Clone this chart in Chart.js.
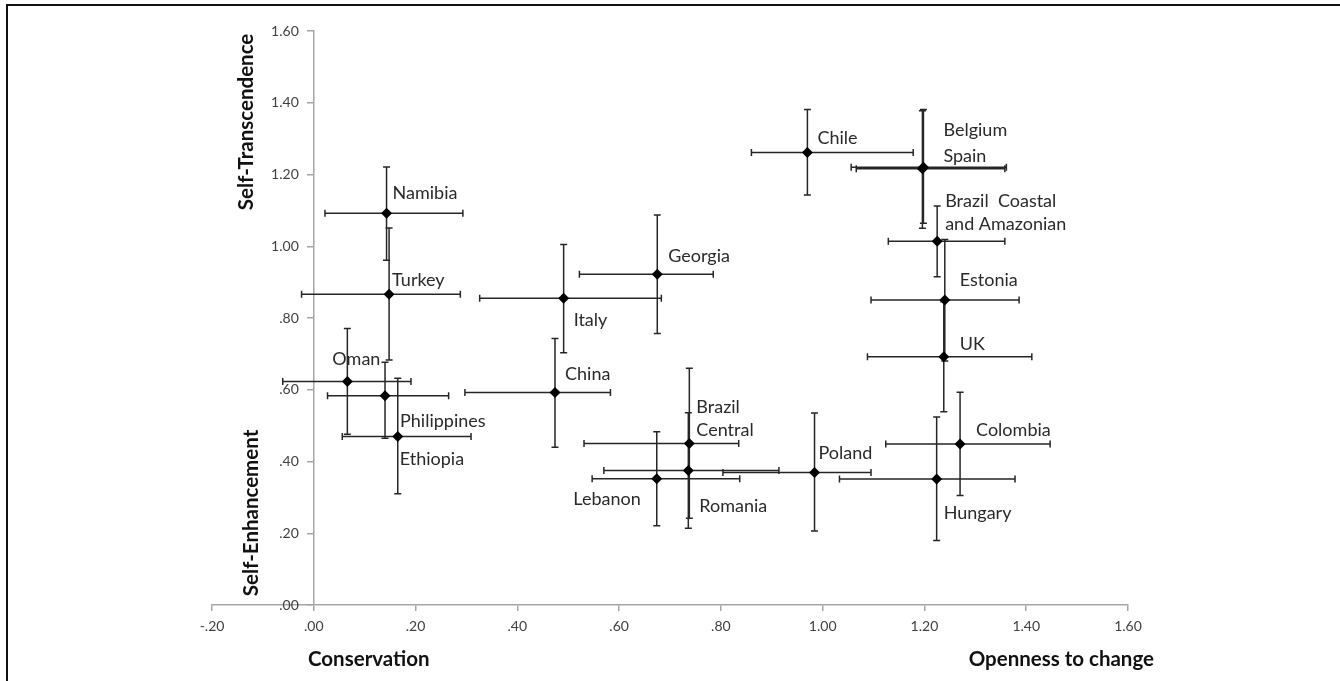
<!DOCTYPE html>
<html>
<head>
<meta charset="utf-8">
<script src="https://cdn.jsdelivr.net/npm/chart.js@4.4.0/dist/chart.umd.min.js"></script>
<style>
html, body { margin: 0; padding: 0; background: #fff; }
#wrap { position: relative; width: 1340px; height: 681px; overflow: hidden; }
#frame { position: absolute; left: 6px; top: 4px; right: -10px; bottom: -10px; border-top: 2px solid #111; border-left: 2px solid #111; }
canvas { position: absolute; left: 0; top: 0; }
</style>
</head>
<body>
<div id="wrap">
  <div id="frame"></div>
  <canvas id="myChart" width="1340" height="681"></canvas>
</div>
<script>
// country means with error bar ends
const countries = ['Namibia', 'Turkey', 'Italy', 'Georgia', 'Chile', 'Belgium', 'Spain',
  'Brazil  Coastal\nand Amazonian', 'Estonia', 'UK', 'Oman', 'Philippines', 'Ethiopia', 'China',
  'Brazil\nCentral', 'Romania', 'Lebanon', 'Poland', 'Colombia', 'Hungary'];

const openness = [0.143, 0.148, 0.491, 0.675, 0.970, 1.198, 1.196, 1.225, 1.240, 1.238,
  0.066, 0.140, 0.165, 0.474, 0.738, 0.736, 0.674, 0.984, 1.270, 1.224];
const opennessLow = [0.022, -0.024, 0.326, 0.522, 0.860, 1.056, 1.066, 1.129, 1.095, 1.088,
  -0.061, 0.027, 0.056, 0.297, 0.531, 0.570, 0.547, 0.804, 1.124, 1.033];
const opennessHigh = [0.293, 0.288, 0.683, 0.785, 1.178, 1.361, 1.358, 1.358, 1.386, 1.411,
  0.191, 0.265, 0.309, 0.583, 0.835, 0.914, 0.837, 1.095, 1.447, 1.378];

const transcendence = [1.092, 0.866, 0.855, 0.922, 1.261, 1.220, 1.216, 1.014, 0.850, 0.692,
  0.623, 0.583, 0.470, 0.592, 0.450, 0.375, 0.352, 0.369, 0.449, 0.351];
const transcendenceLow = [0.961, 0.683, 0.703, 0.757, 1.143, 1.064, 1.050, 0.915, 0.680, 0.539,
  0.476, 0.465, 0.310, 0.440, 0.242, 0.214, 0.221, 0.206, 0.305, 0.180];
const transcendenceHigh = [1.221, 1.051, 1.005, 1.087, 1.381, 1.381, 1.378, 1.112, 1.019, 0.845,
  0.771, 0.677, 0.632, 0.743, 0.660, 0.536, 0.483, 0.535, 0.593, 0.524];

const xTickValues = [-0.2, 0, 0.2, 0.4, 0.6, 0.8, 1.0, 1.2, 1.4, 1.6];
const yTickValues = [0, 0.2, 0.4, 0.6, 0.8, 1.0, 1.2, 1.4, 1.6];

// label placement next to each point: [dx, dy, align]
const labelOffsets = {
  'Namibia': [6, -20, 'left'], 'Turkey': [3, -14, 'left'], 'Italy': [10, 22, 'left'],
  'Georgia': [11, -18, 'left'], 'Chile': [10, -14, 'left'], 'Belgium': [20, -37, 'left'],
  'Spain': [21, -13, 'left'], 'Brazil  Coastal\nand Amazonian': [8, -40, 'left'],
  'Estonia': [15, -20, 'left'], 'UK': [16, -13, 'left'], 'Oman': [-15, -22, 'left'],
  'Philippines': [15, 25, 'left'], 'Ethiopia': [2, 23, 'left'], 'China': [10, -18, 'left'],
  'Brazil\nCentral': [7, -36, 'left'], 'Romania': [11, 36, 'left'], 'Lebanon': [-16, 20, 'right'],
  'Poland': [4, -19, 'left'], 'Colombia': [16, -14, 'left'], 'Hungary': [7, 34, 'left']
};

function fmt(v) {
  let s = Number(v).toFixed(2);
  if (s.startsWith('0.')) s = s.slice(1);
  if (s.startsWith('-0.')) s = '-' + s.slice(2);
  return s;
}

const errorBars = {
  id: 'errorBars',
  beforeDatasetsDraw(chart) {
    const ctx = chart.ctx, x = chart.scales.x, y = chart.scales.y;
    const cap = 3.5;
    ctx.save();
    ctx.strokeStyle = '#262626';
    ctx.lineWidth = 1.5;
    countries.forEach(function (c, i) {
      const px = x.getPixelForValue(openness[i]);
      const py = y.getPixelForValue(transcendence[i]);
      const x0 = x.getPixelForValue(opennessLow[i]);
      const x1 = x.getPixelForValue(opennessHigh[i]);
      const y0 = y.getPixelForValue(transcendenceLow[i]);
      const y1 = y.getPixelForValue(transcendenceHigh[i]);
      ctx.beginPath();
      ctx.moveTo(x0, py); ctx.lineTo(x1, py);
      ctx.moveTo(x0, py - cap); ctx.lineTo(x0, py + cap);
      ctx.moveTo(x1, py - cap); ctx.lineTo(x1, py + cap);
      ctx.moveTo(px, y0); ctx.lineTo(px, y1);
      ctx.moveTo(px - cap, y0); ctx.lineTo(px + cap, y0);
      ctx.moveTo(px - cap, y1); ctx.lineTo(px + cap, y1);
      ctx.stroke();
    });
    ctx.restore();
  }
};

const countryLabels = {
  id: 'countryLabels',
  afterDatasetsDraw(chart) {
    const ctx = chart.ctx, x = chart.scales.x, y = chart.scales.y;
    ctx.save();
    ctx.font = '18px Lato';
    ctx.fillStyle = '#2a2a2a';
    ctx.textBaseline = 'middle';
    countries.forEach(function (c, i) {
      const off = labelOffsets[c];
      const px = x.getPixelForValue(openness[i]) + off[0];
      const py = y.getPixelForValue(transcendence[i]) + off[1];
      ctx.textAlign = off[2];
      c.split('\n').forEach(function (line, k) {
        ctx.fillText(line, px, py + k * 23);
      });
    });
    ctx.restore();
  }
};

// y tick labels sit left of the axis that crosses at x = 0
const yTickLabels = {
  id: 'yTickLabels',
  afterDraw(chart) {
    const ctx = chart.ctx, x = chart.scales.x, y = chart.scales.y;
    const ax = x.getPixelForValue(0);
    ctx.save();
    ctx.font = '14px Lato';
    ctx.fillStyle = '#404040';
    ctx.textAlign = 'right';
    ctx.textBaseline = 'middle';
    y.ticks.forEach(function (t) {
      ctx.fillText(fmt(t.value), ax - 15, y.getPixelForValue(t.value));
    });
    ctx.restore();
  }
};

const axisTitles = {
  id: 'axisTitles',
  afterDraw(chart) {
    const ctx = chart.ctx, a = chart.chartArea;
    ctx.save();
    ctx.font = 'bold 20.5px Lato';
    ctx.fillStyle = '#111';
    ctx.textBaseline = 'middle';
    ctx.textAlign = 'left';
    ctx.fillText('Conservation', a.left + 96, 659);
    ctx.textAlign = 'right';
    ctx.fillText('Openness to change', a.right + 26, 659);
    ctx.textAlign = 'center';
    ctx.translate(246, a.top + 91);
    ctx.rotate(-Math.PI / 2);
    ctx.fillText('Self-Transcendence', 0, 0);
    ctx.rotate(Math.PI / 2);
    ctx.translate(5, 391);
    ctx.rotate(-Math.PI / 2);
    ctx.fillText('Self-Enhancement', 0, 0);
    ctx.restore();
  }
};

const myChartRef = document.getElementById('myChart').getContext('2d');

new Chart(myChartRef, {
  type: 'scatter',
  data: {
    datasets: [{
      data: countries.map(function (c, i) { return { x: openness[i], y: transcendence[i] }; }),
      pointStyle: 'rectRot',
      pointRadius: 5.5,
      backgroundColor: '#000',
      borderColor: '#000',
      borderWidth: 0
    }]
  },
  options: {
    responsive: false,
    animation: false,
    layout: { padding: { left: 212, right: 212, top: 31, bottom: 0 } },
    plugins: { legend: { display: false }, tooltip: { enabled: false } },
    scales: {
      x: {
        type: 'linear', min: -0.2, max: 1.6, position: 'bottom',
        afterBuildTicks: function (s) { s.ticks = xTickValues.map(function (v) { return { value: v }; }); },
        afterFit: function (s) { s.height = 76; },
        grid: { drawOnChartArea: false, tickLength: 6, color: '#a6a6a6', lineWidth: 1.5 },
        border: { color: '#a6a6a6', width: 1.5 },
        ticks: { callback: fmt, font: { family: 'Lato', size: 14 }, color: '#404040', padding: 7, maxRotation: 0, autoSkip: false }
      },
      y: {
        type: 'linear', min: 0, max: 1.6, position: { x: 0 },
        afterBuildTicks: function (s) { s.ticks = yTickValues.map(function (v) { return { value: v }; }); },
        grid: { drawOnChartArea: false, tickLength: 6, color: '#a6a6a6', lineWidth: 1.5 },
        border: { color: '#a6a6a6', width: 1.5 },
        ticks: { display: false }
      }
    }
  },
  plugins: [errorBars, countryLabels, yTickLabels, axisTitles]
});
</script>
</body>
</html>
